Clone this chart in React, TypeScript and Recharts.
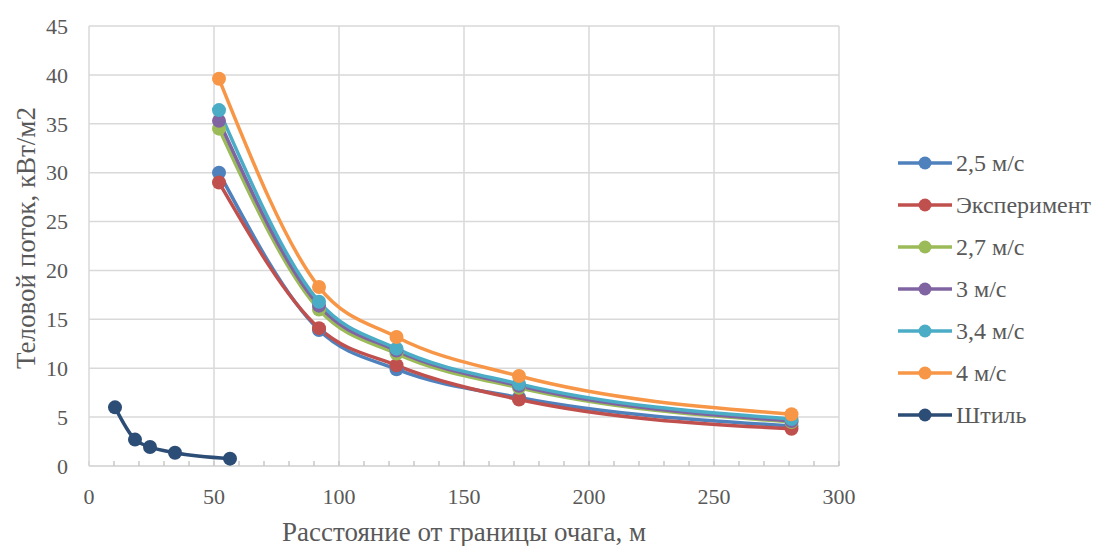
import { LineChart, Line, XAxis, YAxis, CartesianGrid, ReferenceLine, Label } from "recharts";

const INK = "#595959";
const GRID = "#d9d9d9";
const FONT = "Liberation Serif, Tinos, Times New Roman, DejaVu Serif, serif";

// distances, m
const X_WIND = [52, 92, 123, 172, 281];
const X_CALM = [10.4, 18.4, 24.4, 34.4, 56.4];

// heat flux, kW/m2
const V_2_5 = [30.0, 13.9, 9.9, 7.0, 4.1];
const V_EXP = [29.0, 14.1, 10.3, 6.8, 3.8];
const V_2_7 = [34.5, 16.0, 11.5, 8.0, 4.5];
const V_3 = [35.3, 16.4, 11.8, 8.2, 4.6];
const V_3_4 = [36.4, 16.8, 12.0, 8.4, 4.8];
const V_4 = [39.6, 18.3, 13.2, 9.2, 5.3];
const V_CALM = [6.0, 2.7, 1.95, 1.35, 0.75];

const X_TICKS = [0, 10, 20, 30, 40, 50, 60, 70, 80, 90, 100, 110, 120, 130, 140, 150, 160, 170, 180, 190, 200, 210, 220, 230, 240, 250, 260, 270, 280, 290, 300];
const X_MAJOR = [50, 100, 150, 200, 250, 300];
const Y_TICKS = [0, 5, 10, 15, 20, 25, 30, 35, 40, 45];

const toPoints = (xs: number[], ys: number[]) => xs.map((x, i) => ({ x, y: ys[i] }));

const SERIES = [
  { name: "2,5 м/с", color: "#4F81BD", data: toPoints(X_WIND, V_2_5) },
  { name: "Эксперимент", color: "#C0504D", data: toPoints(X_WIND, V_EXP) },
  { name: "2,7 м/с", color: "#9BBB59", data: toPoints(X_WIND, V_2_7) },
  { name: "3 м/с", color: "#8064A2", data: toPoints(X_WIND, V_3) },
  { name: "3,4 м/с", color: "#4BACC6", data: toPoints(X_WIND, V_3_4) },
  { name: "4 м/с", color: "#F79646", data: toPoints(X_WIND, V_4) },
  { name: "Штиль", color: "#2C4D75", data: toPoints(X_CALM, V_CALM) },
];

function ChartLegend() {
  return (
    <div style={{ position: "absolute", left: 896, top: 142, fontFamily: FONT, fontSize: 24, color: INK }}>
      {SERIES.map((s) => (
        <div key={s.name} style={{ display: "flex", alignItems: "center", height: 42, whiteSpace: "nowrap" }}>
          <svg width={60} height={16}>
            <line x1={2} y1={8} x2={56} y2={8} stroke={s.color} strokeWidth={3.5} />
            <circle cx={29} cy={8} r={6.5} fill={s.color} />
          </svg>
          <span>{s.name}</span>
        </div>
      ))}
    </div>
  );
}

export default function App() {
  return (
    <div style={{ position: "absolute", left: 0, top: 0, width: 1093, height: 546, background: "#fff", fontFamily: FONT }}>
      <LineChart width={1093} height={546} margin={{ top: 26, right: 254, bottom: 0, left: 0 }} style={{ fontFamily: FONT }}>
        <CartesianGrid stroke={GRID} strokeWidth={1.5} vertical={false} />
        {X_MAJOR.map((v) => (
          <ReferenceLine key={v} x={v} stroke={GRID} strokeWidth={1.5} />
        ))}
        <XAxis
          type="number"
          dataKey="x"
          domain={[0, 300]}
          ticks={X_TICKS}
          interval={0}
          allowDataOverflow
          height={80}
          tickFormatter={(v: number) => (v % 50 === 0 ? String(v) : "")}
          tick={{ fontSize: 22, fill: INK, fontFamily: FONT }}
          axisLine={{ stroke: GRID, strokeWidth: 1.5 }}
          tickLine={{ stroke: "#c8c8c8", strokeWidth: 1.5 }}
          tickSize={-5}
          tickMargin={27}
        >
          <Label
            content={({ viewBox }: any) => (
              <text
                x={viewBox.x + viewBox.width / 2}
                y={viewBox.y + 75}
                textAnchor="middle"
                fontSize={27}
                fill={INK}
                style={{ fontFamily: FONT }}
              >
                Расстояние от границы очага, м
              </text>
            )}
          />
        </XAxis>
        <YAxis
          type="number"
          domain={[0, 45]}
          ticks={Y_TICKS}
          interval={0}
          width={89}
          tick={{ fontSize: 22, fill: INK, fontFamily: FONT }}
          axisLine={{ stroke: GRID, strokeWidth: 1.5 }}
          tickLine={false}
          tickSize={0}
          tickMargin={21}
        >
          <Label
            content={({ viewBox }: any) => {
              const cx = viewBox.x + 35;
              const cy = viewBox.y + viewBox.height / 2 - 8;
              return (
                <text
                  x={cx}
                  y={cy}
                  transform={`rotate(-90 ${cx} ${cy})`}
                  textAnchor="middle"
                  fontSize={27}
                  fill={INK}
                  style={{ fontFamily: FONT }}
                >
                  Теловой поток, кВт/м2
                </text>
              );
            }}
          />
        </YAxis>
        {SERIES.map((s) => (
          <Line
            key={s.name}
            name={s.name}
            data={s.data}
            dataKey="y"
            type="monotone"
            stroke={s.color}
            strokeWidth={3.5}
            dot={{ r: 7, fill: s.color, stroke: s.color, strokeWidth: 0 }}
            activeDot={false}
            isAnimationActive={false}
          />
        ))}
      </LineChart>
      <ChartLegend />
    </div>
  );
}
